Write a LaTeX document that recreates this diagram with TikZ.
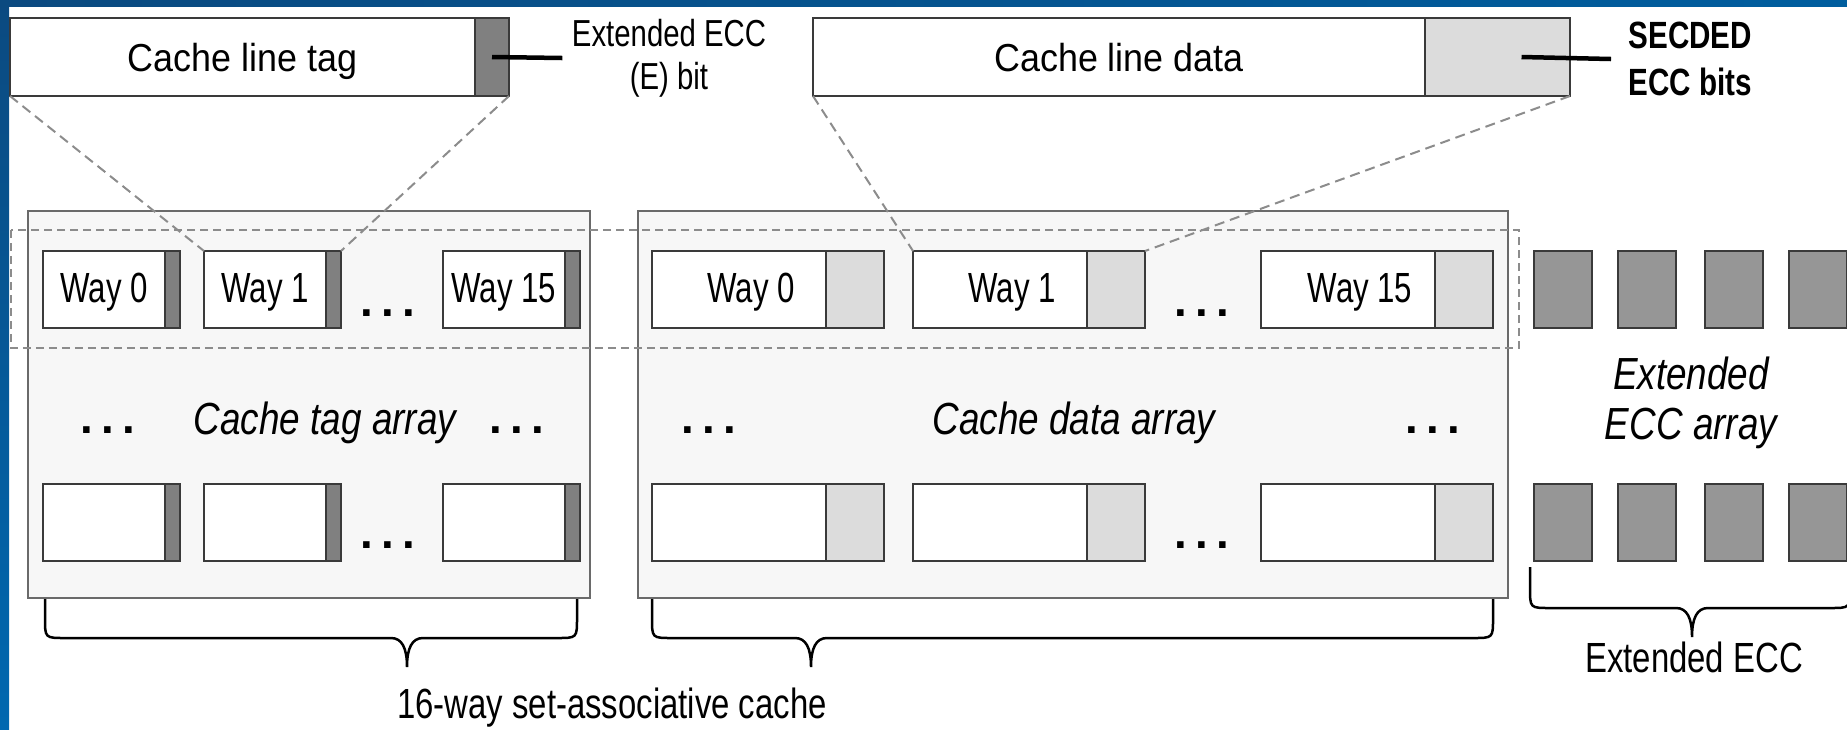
\documentclass[tikz,border=0pt]{standalone}
\usepackage{fontspec}
\setmainfont{Liberation Sans}
\newfontfamily\headsf[FakeStretch=0.92]{Liberation Sans}
\newfontfamily\waysf[FakeStretch=0.74]{Liberation Sans}
\newfontfamily\notesf[FakeStretch=0.78]{Liberation Sans}
\newfontfamily\arrsf[FakeStretch=0.82]{Liberation Sans}
\newfontfamily\dotsf[LetterSpace=18]{Liberation Sans}
\usetikzlibrary{positioning}

\definecolor{framedark}{HTML}{0B4A80}
\definecolor{framelight}{HTML}{0068B0}
\definecolor{boxline}{HTML}{3A3A3A}
\definecolor{arrayfill}{HTML}{F7F7F7}
\definecolor{arrayline}{HTML}{6A6A6A}
\definecolor{tagbitfill}{HTML}{808080}
\definecolor{eccfill}{HTML}{969696}
\definecolor{secdedfill}{HTML}{DCDCDC}
\definecolor{zoomline}{HTML}{8C8C8C}

\tikzset{
    cell/.style={draw=boxline, line width=0.2mm, inner sep=0pt, outer sep=0pt, minimum height=7.7mm},
    tagway/.style={cell, fill=white, minimum width=12.2mm,
        font=\waysf\fontsize{12}{14}\selectfont, text height=3mm, text depth=0.5mm},
    tagbit/.style={cell, fill=tagbitfill, minimum width=1.5mm},
    dataway/.style={tagway, minimum width=17.4mm, execute at begin node=\hspace*{2.4mm}},
    databit/.style={cell, fill=secdedfill, minimum width=5.8mm},
    eccbit/.style={cell, fill=eccfill, minimum width=5.8mm},
    lineword/.style={cell, fill=white, minimum height=7.8mm,
        font=\headsf\fontsize{11.1}{13}\selectfont, text height=2.8mm, text depth=0pt},
    arraybox/.style={draw=arrayline, fill=arrayfill, line width=0.15mm, inner sep=0pt,
        minimum height=38.7mm},
    arrlabel/.style={font=\arrsf\itshape\fontsize{12.8}{14.2}\selectfont, inner sep=0pt,
        text height=3.2mm, text depth=0pt},
    caption/.style={font=\notesf\fontsize{12}{14}\selectfont, inner sep=0pt,
        text height=3mm, text depth=0pt},
    dots/.style={font=\dotsf\bfseries\fontsize{13}{13}\selectfont, inner sep=0pt, anchor=base},
    zoomed/.style={draw=zoomline, dash pattern=on 1mm off 0.6mm, line width=0.2mm},
    pointer/.style={draw=black, line width=0.45mm},
    brace/.style={draw=black, line width=0.25mm},
}

\begin{document}
\begin{tikzpicture}[x=0.1mm, y=-0.1mm]
    \useasboundingbox (0,0) rectangle (1847,729);
    % slide frame
    \shade[top color=framedark, bottom color=framelight] (0,0) rectangle (9,729);
    \shade[left color=framedark, right color=framelight!90!black] (0,0) rectangle (1847,6);

    % the two arrays
    \node[arraybox, minimum width=56.2mm] (tagarr) at (309,404.5) {};
    \node[arraybox, minimum width=87mm] (dataarr) at (1073,404.5) {};
    % one set
    \draw[zoomline, line width=0.12mm, dash pattern=on 0.8mm off 0.5mm] (11,230) rectangle (1519,348);

    \foreach \row/\yy/\wa/\wb/\wc in {top/289.5/Way 0/Way 1/Way 15, bot/522/{}/{}/{}} {
        % tags
        \node[tagway] (tw0-\row) at (104,\yy) {\wa};
        \node[tagbit, right=0pt of tw0-\row] (tb0-\row) {};
        \node[tagway, right=2.4mm of tb0-\row] (tw1-\row) {\wb};
        \node[tagbit, right=0pt of tw1-\row] (tb1-\row) {};
        \node[tagway, right=10.2mm of tb1-\row] (tw15-\row) {\wc};
        \node[tagbit, right=0pt of tw15-\row] (tb15-\row) {};
        \node[dots] (tdots-\row) at (388,\yy+26.5) {...};
        % data
        \node[dataway] (dw0-\row) at (739,\yy) {\wa};
        \node[databit, right=0pt of dw0-\row] (db0-\row) {};
        \node[dataway, right=2.9mm of db0-\row] (dw1-\row) {\wb};
        \node[databit, right=0pt of dw1-\row] (db1-\row) {};
        \node[dataway, right=11.6mm of db1-\row] (dw15-\row) {\wc};
        \node[databit, right=0pt of dw15-\row] (db15-\row) {};
        \node[dots] (ddots-\row) at (1202,\yy+26.5) {...};
        % extended ECC
        \foreach \i/\xx in {0/1563, 1/1647, 2/1734, 3/1818}
            \node[eccbit] (ecc\i-\row) at (\xx,\yy) {};
    }

    % middle row
    \node[dots] (tdotsl) at (108,433) {...};
    \node[arrlabel] (tagname) at (325,418) {Cache tag array};
    \node[dots] (tdotsr) at (517,433) {...};
    \node[dots] (ddotsl) at (709,433) {...};
    \node[arrlabel] (dataname) at (1074,418) {Cache data array};
    \node[dots] (ddotsr) at (1433,433) {...};
    \node[arrlabel, align=center] (eccname) at (1691,423) {Extended\\ECC array};

    % cache lines on top
    \node[lineword, minimum width=46.5mm] (tagline) at (242.5,57) {Cache line tag};
    \node[cell, fill=tagbitfill, minimum width=3.4mm, minimum height=7.8mm, right=0pt of tagline] (tagebit) {};
    \node[lineword, minimum width=61.2mm] (dataline) at (1119,57) {Cache line data};
    \node[cell, fill=secdedfill, minimum width=14.5mm, minimum height=7.8mm, right=0pt of dataline] (secded) {};

    \node[font=\notesf\fontsize{10.7}{12.2}\selectfont, align=center, inner xsep=0.9mm] (ebitnote) at (669,58) {Extended ECC\\(E) bit};
    \node[font=\notesf\bfseries\fontsize{10.8}{13.2}\selectfont, align=left, anchor=west, inner xsep=1.7mm] (secdednote) at (1611,59) {SECDED\\ECC bits};
    \draw[pointer] (tagebit.center) -- (ebitnote.west);
    \draw[pointer] ([xshift=2.4mm]secded.center) -- (secdednote.west);

    % zoom lines
    \draw[zoomed] (tagline.south west) -- (tw1-top.north west);
    \draw[zoomed] (tagebit.south east) -- (tb1-top.north east);
    \draw[zoomed] (dataline.south west) -- (dw1-top.north west);
    \draw[zoomed] (secded.south east) -- (db1-top.north east);

    % braces
    \foreach \xa/\xb/\xt/\ya/\yb/\yc in {45/577/407/599/638/667, 652/1493/811/599/638/667, 1530/1850/1692/567/608/637}
        \draw[brace] (\xa,\ya) -- (\xa,\yb-20) .. controls (\xa,\yb) .. (\xa+20,\yb) -- (\xt-16,\yb)
            .. controls (\xt-5,\yb) and (\xt,\yb+10) .. (\xt,\yc)
            .. controls (\xt,\yb+10) and (\xt+5,\yb) .. (\xt+16,\yb) -- (\xb-20,\yb)
            .. controls (\xb,\yb) .. (\xb,\yb-20) -- (\xb,\ya);

    \node[caption] (cachecap) at (612,703) {16-way set-associative cache};
    \node[caption] (ecccap) at (1694,657) {Extended ECC};
\end{tikzpicture}
\end{document}
